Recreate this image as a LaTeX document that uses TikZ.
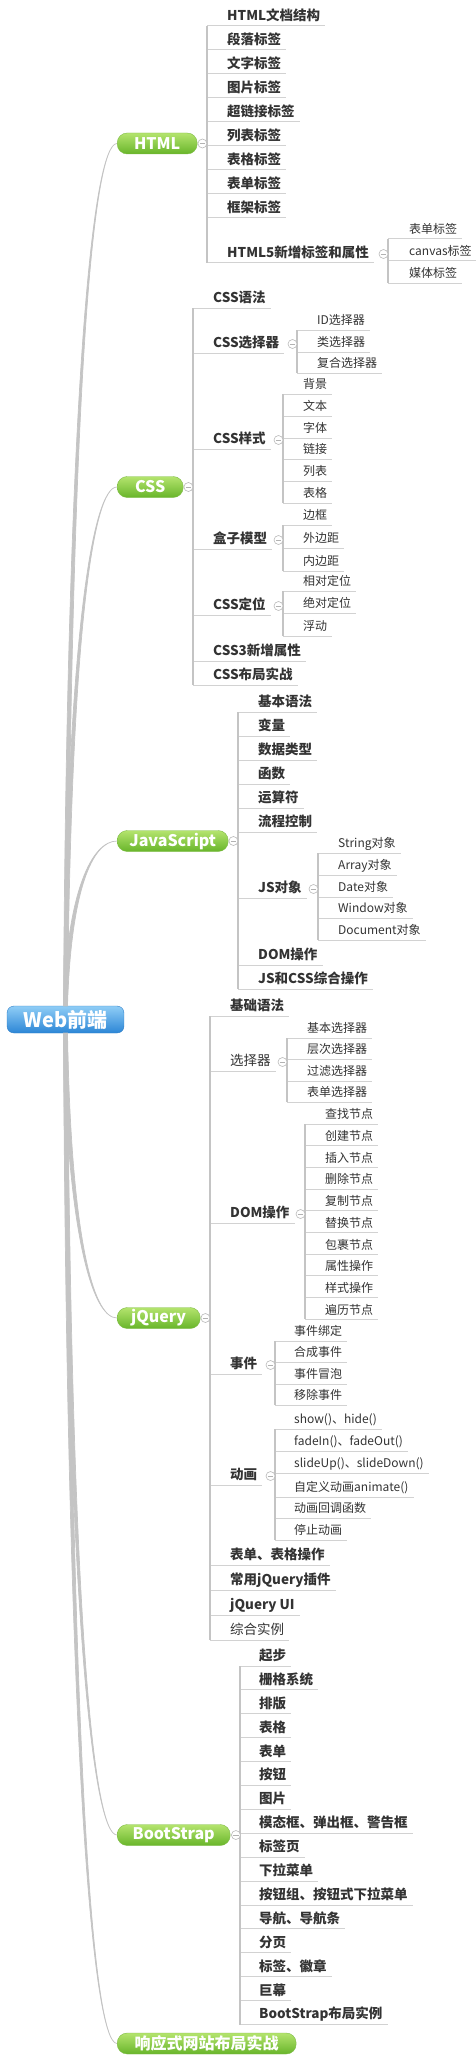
\documentclass[tikz,border=0pt]{standalone}
\usepackage{fontspec}
\setmainfont{Noto Sans CJK SC}
\usetikzlibrary{positioning}

\definecolor{txt}{HTML}{333333}
\definecolor{lnk}{HTML}{C4C4C4}
\definecolor{ul}{HTML}{D2D2D2}
\definecolor{gtop}{HTML}{B4E46E}
\definecolor{gbot}{HTML}{68B52A}
\definecolor{gedge}{HTML}{7DBB45}
\definecolor{btop}{HTML}{8FCDF6}
\definecolor{bbot}{HTML}{2C86D6}
\definecolor{bedge}{HTML}{2F7FC8}

\tikzset{
  root/.style={rounded corners=7pt, draw=bedge, top color=btop, bottom color=bbot, text=white,
    font=\fontsize{20}{22}\selectfont\bfseries, minimum width=117pt, minimum height=27pt, inner sep=0pt},
  topic/.style={anchor=west, rounded corners=10pt, draw=gedge, top color=gtop, bottom color=gbot, text=white,
    font=\fontsize{16}{18}\selectfont\bfseries, minimum height=21pt, inner sep=0pt},
  sub/.style={anchor=south west, inner xsep=0pt, inner ysep=2.9pt, text height=9.5pt, text depth=2.5pt,
    text=txt, font=\fontsize{13.5}{15}\selectfont\bfseries},
  leaf/.style={anchor=south west, inner xsep=0pt, inner ysep=2.5pt, text height=8.5pt, text depth=2.5pt,
    text=txt, font=\fontsize{12}{14}\selectfont},
  fold/.style={circle, draw=gray!55, fill=white, minimum size=9pt, inner sep=0pt, line width=0.6pt,
    path picture={\draw[gray!60, line width=0.6pt] ([xshift=-2.6pt]path picture bounding box.center)
      -- ([xshift=2.6pt]path picture bounding box.center);}},
  trunk/.style={fill=lnk, draw=lnk, line width=0.7pt},
  vline/.style={draw=lnk, line width=1.1pt},
  uline/.style={draw=ul, line width=1pt}
}

% tapered branch from the centre topic: start, control y, target node
\newcommand{\twig}[3]{%
  \filldraw[trunk] ([xshift=-2pt]#1) .. controls (67,#2) and ([xshift=-25pt]#3.west) .. (#3.west)
    .. controls ([xshift=-25pt]#3.west) and (71,#2) .. ([xshift=2pt]#1) -- cycle;}
% underlines and spine of one group: spine coordinate, prefix, count
\newcommand{\group}[3]{%
  \foreach \i in {1,...,#3}
    \draw[uline] (#2\i.south west -| #1) -- ([xshift=5pt]#2\i.south east);
  \draw[vline] (#21.south west -| #1) -- (#2#3.south west -| #1);}

\begin{document}
\begin{tikzpicture}[x=1pt, y=-1pt]
  \useasboundingbox (0,0) rectangle (476,2060);

  \node[root] (web) at (65.5,1019.5) {Web前端};

  % main topics
  \node[topic, minimum width=80pt] (html) at (117,143.5) {HTML};
  \node[topic, minimum width=66pt] (css) at (117,487) {CSS};
  \node[topic, minimum width=111pt] (js) at (117,841) {JavaScript};
  \node[topic, minimum width=83pt] (jq) at (117,1318) {jQuery};
  \node[topic, minimum width=113pt] (bs) at (117,1835) {BootStrap};
  \node[topic, minimum width=179pt] (resp) at (117,2043.5) {响应式网站布局实战};

  \twig{web.north}{402}{html}
  \twig{web.north}{643}{css}
  \twig{web.north}{891}{js}
  \twig{web.south}{1232}{jq}
  \twig{web.south}{1594}{bs}
  \twig{web.south}{1740}{resp}

  % HTML
  \foreach \lbl [count=\i] in {HTML文档结构,段落标签,文字标签,图片标签,超链接标签,列表标签,表格标签,表单标签,框架标签}
    \node[sub] (h\i) at (227,2+24*\i) {\lbl};
  \node[sub] (h10) at (227,263) {HTML5新增标签和属性};
  \foreach \lbl/\y [count=\i] in {表单标签/239,canvas标签/261,媒体标签/283}
    \node[leaf] (hf\i) at (409,\y) {\lbl};
  \coordinate (hv) at (207,0);
  \coordinate (hfv) at (388,0);
  \group{hv}{h}{10}
  \group{hfv}{hf}{3}

  % CSS
  \foreach \lbl/\y [count=\i] in {CSS语法/308,CSS选择器/353,CSS样式/449,盒子模型/549,CSS定位/615,CSS3新增属性/661,CSS布局实战/685}
    \node[sub] (c\i) at (213,\y) {\lbl};
  \foreach \lbl/\y [count=\i] in {ID选择器/330,类选择器/352,复合选择器/373}
    \node[leaf] (cs\i) at (317,\y) {\lbl};
  \foreach \lbl/\y [count=\i] in {背景/394,文本/416,字体/438,链接/459,列表/481,表格/503}
    \node[leaf] (cy\i) at (303,\y) {\lbl};
  \foreach \lbl/\y [count=\i] in {边框/525,外边距/548,内边距/571}
    \node[leaf] (cb\i) at (303,\y) {\lbl};
  \foreach \lbl/\y [count=\i] in {相对定位/591,绝对定位/613,浮动/636}
    \node[leaf] (cp\i) at (303,\y) {\lbl};
  \coordinate (cv) at (193,0);
  \coordinate (csv) at (297,0);
  \coordinate (cyv) at (283,0);
  \group{cv}{c}{7}
  \group{csv}{cs}{3}
  \group{cyv}{cy}{6}
  \group{cyv}{cb}{3}
  \group{cyv}{cp}{3}

  % JavaScript
  \foreach \lbl/\y [count=\i] in {基本语法/712,变量/736,数据类型/760,函数/784,运算符/808,流程控制/832,JS对象/898,DOM操作/965,JS和CSS综合操作/989}
    \node[sub] (j\i) at (258,\y) {\lbl};
  \foreach \lbl/\y [count=\i] in {String对象/853,Array对象/875,Date对象/897,Window对象/918,Document对象/940}
    \node[leaf] (jo\i) at (338,\y) {\lbl};
  \coordinate (jv) at (238,0);
  \coordinate (jov) at (318,0);
  \group{jv}{j}{9}
  \group{jov}{jo}{5}

  % jQuery
  \foreach \lbl/\y [count=\i] in {基础语法/1016,{\mdseries 选择器}/1071,DOM操作/1223,事件/1374,动画/1485,表单、表格操作/1565,常用jQuery插件/1590,jQuery UI/1615,{\mdseries 综合实例}/1640}
    \node[sub] (q\i) at (230,\y) {\lbl};
  \foreach \lbl/\y [count=\i] in {基本选择器/1038,层次选择器/1059,过滤选择器/1081,表单选择器/1102}
    \node[leaf] (qs\i) at (307,\y) {\lbl};
  \foreach \lbl [count=\i] in {查找节点,创建节点,插入节点,删除节点,复制节点,替换节点,包裹节点,属性操作,样式操作,遍历节点}
    \node[leaf] (qd\i) at (325,1102.3+21.7*\i) {\lbl};
  \foreach \lbl/\y [count=\i] in {事件绑定/1341,合成事件/1362,事件冒泡/1384,移除事件/1405}
    \node[leaf] (qe\i) at (294,\y) {\lbl};
  \foreach \lbl/\y [count=\i] in {show()、hide()/1429,fadeIn()、fadeOut()/1451,slideUp()、slideDown()/1473,自定义动画animate()/1497,动画回调函数/1518,停止动画/1540}
    \node[leaf] (qa\i) at (294,\y) {\lbl};
  \coordinate (qv) at (210,0);
  \coordinate (qsv) at (287,0);
  \coordinate (qdv) at (305,0);
  \coordinate (qev) at (275,0);
  \group{qv}{q}{9}
  \group{qsv}{qs}{4}
  \group{qdv}{qd}{10}
  \group{qev}{qe}{4}
  \group{qev}{qa}{6}

  % BootStrap
  \foreach \lbl [count=\i] in {起步,栅格系统,排版,表格,表单,按钮,图片,模态框、弹出框、警告框,标签页,下拉菜单,按钮组、按钮式下拉菜单,导航、导航条,分页,标签、徽章,巨幕,BootStrap布局实例}
    \node[sub] (b\i) at (259,1642.1+23.9*\i) {\lbl};
  \coordinate (bv) at (240,0);
  \group{bv}{b}{16}

  % fold marks
  \node[fold] at ([xshift=5pt]html.east) {};
  \node[fold] at ([xshift=5pt]css.east) {};
  \node[fold] at ([xshift=5pt]js.east) {};
  \node[fold] at ([xshift=5pt]jq.east) {};
  \node[fold] at ([xshift=5.5pt]bs.east) {};
  \node[fold] at (383.5,254) {};
  \node[fold] at (292.5,344) {};
  \node[fold] at (278.5,440) {};
  \node[fold] at (278.5,540) {};
  \node[fold] at (278.5,606) {};
  \node[fold] at (313.5,889) {};
  \node[fold] at (282.5,1062) {};
  \node[fold] at (300.5,1214) {};
  \node[fold] at (270.5,1365) {};
  \node[fold] at (270.5,1476) {};
\end{tikzpicture}
\end{document}
